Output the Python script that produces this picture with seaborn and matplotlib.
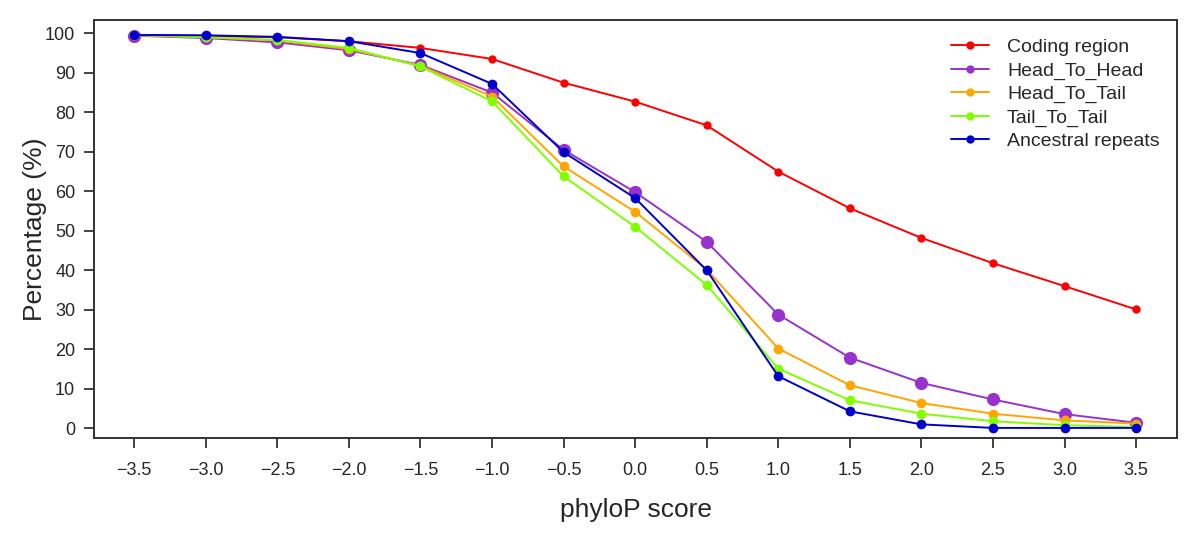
import matplotlib
matplotlib.use("Agg")
import matplotlib.pyplot as plt
import seaborn as sns
import pandas as pd

phylop = [-3.5, -3.0, -2.5, -2.0, -1.5, -1.0, -0.5, 0.0, 0.5, 1.0, 1.5, 2.0, 2.5, 3.0, 3.5]
tick_labels = ["\u22123.5", "\u22123.0", "\u22122.5", "\u22122.0", "\u22121.5", "\u22121.0", "\u22120.5",
               "0.0", "0.5", "1.0", "1.5", "2.0", "2.5", "3.0", "3.5"]
coding = [99.5, 99.3, 99.0, 98.0, 96.3, 93.5, 87.5, 82.7, 76.7, 65.0, 55.7, 48.2, 41.8, 36.0, 30.1]
head_to_head = [99.4, 98.8, 97.7, 95.7, 92.0, 85.0, 70.5, 59.8, 47.2, 28.8, 17.9, 11.5, 7.3, 3.6, 1.4]
head_to_tail = [99.5, 99.0, 98.2, 96.0, 91.8, 84.0, 66.3, 54.8, 40.2, 20.2, 10.9, 6.4, 3.7, 2.0, 1.2]
tail_to_tail = [99.6, 99.0, 98.3, 96.3, 91.6, 82.8, 63.8, 51.0, 36.3, 15.1, 7.1, 3.7, 1.8, 0.8, 0.3]
ancestral = [99.6, 99.5, 99.1, 98.0, 95.0, 87.2, 69.9, 58.3, 40.0, 13.2, 4.3, 1.0, 0.1, 0.1, 0.1]

series_names = ["Coding region", "Head_To_Head", "Head_To_Tail", "Tail_To_Tail", "Ancestral repeats"]
series_values = [coding, head_to_head, head_to_tail, tail_to_tail, ancestral]
colors = ["#FF0000", "#9932CC", "#FFA500", "#7FFF00", "#0000CD"]
msizes = [6, 9.5, 7, 7, 7]

sns.set_style("white")
plt.rcParams['font.family'] = ['Liberation Sans', 'DejaVu Sans']

fig = plt.figure(figsize=(12, 5.41), dpi=100)
# axes box: left 94, right 1177, top 20, bottom 438 (pixels)
ax = fig.add_axes([94 / 1200, (541 - 438) / 541, (1177 - 94) / 1200, (438 - 20) / 541])

for name, vals, c, ms in zip(series_names, series_values, colors, msizes):
    df = pd.DataFrame({"x": phylop, "y": vals})
    sns.lineplot(data=df, x="x", y="y", ax=ax, color=c, marker="o", markersize=ms,
                 markeredgewidth=0, linewidth=1.4, label=name)

ax.set_xlim(-3.781, 3.786)
ax.set_ylim(-2.45, 103.37)
ax.set_xticks(phylop)
ax.set_xticklabels(tick_labels, fontsize=13)
ax.set_yticks(range(0, 101, 10))
ax.set_yticklabels([str(v) for v in range(0, 101, 10)], fontsize=13)
ax.tick_params(axis="both", direction="out", length=7, width=1.2, color="#222222", bottom=True, left=True)
ax.tick_params(axis="x", pad=10)
ax.tick_params(axis="y", pad=6.5)
ax.set_xlabel("phyloP score", fontsize=19, labelpad=14)
ax.set_ylabel("Percentage (%)", fontsize=19)
ax.yaxis.set_label_coords(-0.0434, 0.5)
for s in ax.spines.values():
    s.set_color("#333333")
    s.set_linewidth(1.4)

leg = ax.legend(loc="upper right", frameon=False, fontsize=14, handlelength=1.95,
                handletextpad=0.9, labelspacing=0.3, bbox_to_anchor=(1.0, 0.998))
for h in leg.legend_handles:
    h.set_markersize(6)

fig.savefig("out.png", dpi=100)
